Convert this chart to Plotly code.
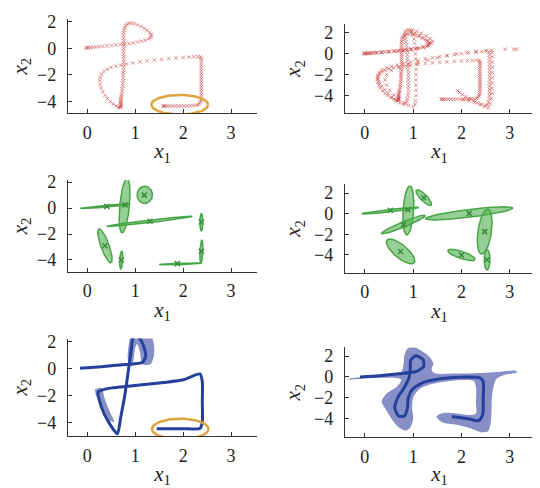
import numpy as np
import plotly.graph_objects as go

# ---------------- data ----------------
# demonstration 1 (top-left panel, also in top-right)
DEMO1 = [(-0.02,0.02),(0.0,0.03),(0.03,0.04),(0.07,0.05),(0.12,0.07),(0.18,0.09),(0.25,0.11),(0.33,0.14),(0.42,0.17),(0.51,0.2),(0.6,0.24),(0.69,0.27),(0.78,0.31),(0.87,0.35),(0.96,0.4),(1.05,0.46),(1.13,0.53),(1.21,0.61),(1.28,0.7),(1.32,0.8),
 (1.34,0.92),(1.33,1.05),(1.3,1.2),(1.25,1.35),(1.19,1.5),(1.12,1.63),(1.05,1.75),(0.98,1.84),(0.92,1.88),(0.87,1.87),(0.83,1.8),(0.8,1.68),(0.78,1.52),(0.77,1.35),(0.76,1.15),(0.76,0.95),
 (0.76,0.75),(0.76,0.55),(0.76,0.35),(0.76,0.15),(0.76,-0.05),(0.76,-0.25),(0.76,-0.45),(0.76,-0.65),(0.76,-0.85),(0.76,-1.05),(0.76,-1.25),(0.76,-1.45),(0.76,-1.65),(0.75,-1.85),(0.75,-2.05),(0.75,-2.25),(0.75,-2.45),(0.74,-2.65),(0.74,-2.85),(0.73,-3.05),(0.73,-3.25),(0.72,-3.45),(0.71,-3.6),(0.71,-3.75),(0.7,-3.88),(0.7,-4.0),(0.7,-4.1),(0.7,-4.2),(0.7,-4.28),(0.7,-4.36),(0.69,-4.42),(0.69,-4.48),
 (0.65,-4.45),(0.6,-4.35),(0.54,-4.2),(0.48,-4.02),(0.42,-3.8),(0.37,-3.55),(0.32,-3.28),(0.29,-3.0),(0.27,-2.72),(0.26,-2.45),(0.27,-2.2),(0.3,-1.95),(0.35,-1.75),(0.42,-1.58),(0.5,-1.45),(0.6,-1.35),(0.7,-1.28),
 (0.82,-1.2),(0.95,-1.12),(1.1,-1.03),(1.25,-0.95),(1.4,-0.88),(1.55,-0.83),(1.7,-0.78),(1.85,-0.74),(2.0,-0.7),(2.12,-0.67),(2.22,-0.65),(2.3,-0.63),(2.36,-0.63),
 (2.38,-0.75),(2.38,-0.9),(2.38,-1.1),(2.38,-1.3),(2.38,-1.5),(2.38,-1.7),(2.38,-1.9),(2.38,-2.1),(2.38,-2.3),(2.38,-2.5),(2.38,-2.7),(2.38,-2.9),(2.38,-3.1),(2.38,-3.3),(2.38,-3.5),(2.38,-3.7),(2.37,-3.9),(2.36,-4.05),(2.34,-4.18),(2.31,-4.26),
 (2.26,-4.3),(2.2,-4.31),(2.14,-4.32),(2.08,-4.33),(2.02,-4.34),(1.96,-4.34),(1.9,-4.35),(1.84,-4.35),(1.78,-4.35),(1.72,-4.35),(1.67,-4.35),(1.63,-4.35),(1.6,-4.35),(1.58,-4.35)]

DEMO2 = [(0.0,0.0),(0.06,0.02),(0.15,0.06),(0.25,0.1),(0.36,0.15),(0.48,0.2),(0.6,0.26),(0.72,0.32),(0.84,0.39),(0.96,0.47),(1.08,0.56),(1.2,0.68),(1.3,0.82),(1.38,1.0),(1.4,1.2),(1.35,1.45),(1.27,1.7),(1.17,1.95),(1.07,2.15),(0.98,2.28),(0.9,2.3),(0.85,2.2),(0.83,2.0),(0.83,1.7),(0.84,1.4),(0.85,1.1),(0.86,0.8),(0.87,0.5),(0.88,0.2),(0.88,-0.1),(0.88,-0.4),(0.88,-0.7),(0.89,-1.0),(0.89,-1.3),(0.89,-1.6),(0.9,-1.9),(0.9,-2.2),(0.9,-2.5),(0.9,-2.8),(0.9,-3.1),(0.9,-3.4),(0.9,-3.7),(0.89,-4.0),(0.88,-4.3),(0.87,-4.55),(0.85,-4.75),(0.8,-4.85),
 (0.72,-4.7),(0.64,-4.45),(0.56,-4.15),(0.48,-3.8),(0.41,-3.45),(0.35,-3.1),(0.3,-2.75),(0.27,-2.4),(0.27,-2.1),(0.3,-1.8),(0.36,-1.55),(0.45,-1.35),(0.55,-1.2),(0.67,-1.08),(0.8,-0.95),(0.95,-0.8),(1.1,-0.65),(1.25,-0.5),(1.4,-0.38),(1.55,-0.27),(1.7,-0.17),(1.85,-0.08),(2.0,0.0),(2.15,0.07),(2.3,0.14),(2.42,0.2),(2.52,0.25),
 (2.57,0.15),(2.58,-0.1),(2.58,-0.4),(2.58,-0.7),(2.58,-1.0),(2.58,-1.3),(2.58,-1.6),(2.58,-1.9),(2.58,-2.2),(2.58,-2.5),(2.58,-2.8),(2.58,-3.1),(2.58,-3.4),(2.58,-3.7),(2.58,-4.0),(2.57,-4.3),(2.56,-4.6),(2.54,-4.85),(2.5,-4.95),(2.42,-4.85),(2.33,-4.7),(2.25,-4.5),(2.17,-4.3),(2.09,-4.1),(2.02,-3.9),(1.96,-3.7),(1.92,-3.55)]

DEMO3 = [(0.0,0.0),(0.1,0.04),(0.22,0.08),(0.35,0.12),(0.5,0.18),(0.65,0.24),(0.8,0.3),(0.95,0.38),(1.1,0.48),(1.22,0.6),(1.3,0.78),(1.32,1.0),(1.28,1.25),(1.2,1.5),(1.12,1.75),(1.04,1.95),(0.97,2.1),(0.92,2.2),(0.96,2.1),(1.0,1.8),(1.02,1.4),(1.03,1.0),(1.04,0.5),(1.05,0.0),(1.05,-0.5),(1.06,-1.0),(1.06,-1.5),(1.06,-2.0),(1.06,-2.5),(1.06,-3.0),(1.06,-3.5),(1.06,-4.0),(1.05,-4.5),(1.04,-4.85),(1.0,-5.05),
 (0.9,-4.95),(0.8,-4.7),(0.7,-4.35),(0.6,-3.95),(0.52,-3.5),(0.45,-3.0),(0.42,-2.5),(0.45,-2.0),(0.55,-1.6),(0.7,-1.3),(0.9,-1.05),(1.1,-0.82),(1.3,-0.6),(1.5,-0.4),(1.7,-0.2),(1.9,-0.02),(2.1,0.12),(2.3,0.24),(2.5,0.32),(2.62,0.33),(2.9,0.42),(3.08,0.43),(3.14,0.43),
 (2.64,0.1),(2.64,-0.3),(2.64,-0.8),(2.64,-1.3),(2.64,-1.8),(2.64,-2.3),(2.64,-2.8),(2.63,-3.3),(2.63,-3.8),(2.62,-4.3),(2.6,-4.8),(2.55,-5.15),(2.47,-5.05),(2.38,-4.85),(2.27,-4.65),(2.15,-4.5),(2.04,-4.38)]

# Gaussian components: centers, conjugate semi-axes (data units)
ML_CENTER = [(0.38,0.14),(0.78,0.2),(1.2,1.02),(1.3,-1.02),(2.38,-1.08),(2.38,-3.35),(1.94,-4.3),(0.37,-2.9),(0.71,-4.0)]
ML_MAJOR  = [(0.52,0.16),(0.05,2.1),(0.0,0.66),(0.89,0.38),(0.0,0.68),(0.01,0.9),(0.44,0.05),(-0.12,1.3),(0.01,0.7)]
ML_MINOR  = [(0.0,0.07),(0.1,0.0),(0.16,0.0),(0.0,0.1),(0.03,0.0),(0.03,0.0),(0.0,0.05),(0.09,0.0),(0.03,0.0)]
ML_MARK   = [(0.41,0.12),(0.79,0.25),(1.19,1.0),(1.31,-1.02),(2.38,-1.07),(2.38,-3.33),(1.88,-4.28),(0.37,-2.9),(0.71,-4.0)]

MR_CENTER = [(0.53,0.3),(0.9,0.32),(1.22,1.56),(0.8,-1.05),(2.16,0.03),(2.48,-1.75),(2.53,-4.5),(0.74,-3.68),(2.0,-4.03)]
MR_MAJOR  = [(0.59,0.3),(0.03,2.38),(-0.153,0.73),(0.45,0.89),(0.9,0.51),(0.06,2.19),(0.0,0.98),(-0.28,1.11),(0.28,-0.44)]
MR_MINOR  = [(0.0,0.12),(0.11,0.0),(0.05,0.22),(0.04,-0.2),(0.0,0.38),(0.14,0.0),(0.06,0.0),(0.09,0.48),(-0.024,-0.33)]
MR_MARK   = [(0.53,0.33),(0.89,0.38),(1.22,1.56),(0.8,-1.05),(2.16,0.03),(2.48,-1.75),(2.53,-4.5),(0.74,-3.68),(2.0,-4.03)]

# reproduced mean trajectories and their confidence regions
BL_MEAN = [(-0.15,0.0),(0.3,0.12),(0.8,0.28),(1.15,0.42),(1.22,0.9),(1.18,1.6),(1.1,2.2),(1.02,2.45),(0.95,2.2),(0.92,1.4),(0.88,0.4),(0.83,-0.9),(0.77,-2.3),(0.7,-3.6),(0.63,-4.85),
           (0.45,-4.0),(0.3,-2.9),(0.23,-1.75),(0.4,-1.52),(1.0,-1.28),(1.6,-1.05),(2.0,-0.85),(2.35,-0.42),(2.4,-1.0),(2.4,-2.5),(2.4,-4.0),(2.35,-4.45),(2.0,-4.47),(1.45,-4.48)]
BL_BAND1 = [(0.85,0.6),(0.87,1.8),(0.92,2.4),(1.32,2.4),(1.39,1.8),(1.39,0.9),(1.32,0.3),(1.15,0.3),(1.1,1.2),(1.04,1.8),(1.0,1.5),(0.97,0.7),(0.93,0.15),(0.85,0.6)]
BL_BAND2 = [(0.16,-1.55),(0.3,-1.45),(0.36,-2.2),(0.47,-3.2),(0.56,-3.95),(0.48,-3.9),(0.33,-2.9),(0.18,-2.0)]

BR_MEAN = [(-0.1,0.0),(0.3,0.12),(0.7,0.3),(1.06,0.52),(1.22,1.0),(1.2,1.7),(1.05,2.02),(0.95,1.6),(0.94,0.8),(0.92,0.0),(0.82,-1.0),(0.68,-2.0),(0.62,-3.0),(0.7,-3.75),(0.82,-3.75),(0.88,-3.0),(0.9,-2.0),(0.98,-1.2),(1.2,-0.55),(1.6,-0.15),(2.1,0.0),(2.38,-0.08),(2.45,-0.5),(2.45,-2.0),(2.44,-3.6),(2.36,-4.2),(2.1,-3.98),(1.8,-3.82)]
BR_BAND = [(-0.32,-0.15),(0.3,0.18),(0.75,0.45),(0.8,1.2),(0.82,2.1),(0.88,2.7),(1.0,2.88),(1.15,2.55),(1.3,2.1),(1.42,1.3),(1.38,0.72),(1.45,0.35),(1.9,0.32),(2.4,0.38),(2.8,0.5),(3.12,0.6),(3.15,0.45),(2.9,0.2),(2.72,-0.2),(2.66,-1.0),
           (2.63,-2.0),(2.62,-3.5),(2.6,-4.5),(2.55,-5.2),(2.4,-5.3),(2.2,-4.95),(1.9,-4.6),(1.6,-4.35),(1.48,-3.8),(1.62,-3.45),(1.9,-3.5),(2.2,-3.65),(2.3,-3.5),(2.3,-2.5),(2.3,-1.0),(2.25,-0.4),(2.0,-0.3),(1.6,-0.5),(1.3,-0.8),(1.12,-1.2),
           (1.0,-2.0),(0.98,-3.0),(1.0,-4.0),(0.95,-4.8),(0.85,-5.15),(0.72,-4.9),(0.58,-4.2),(0.42,-3.0),(0.35,-2.4),(0.45,-1.6),(0.65,-1.0),(0.75,-0.25),(0.3,-0.08),(-0.32,-0.28)]

# highlight ellipses (center, semi-axes)
HL_TL = ((1.93,-4.25),(0.59,0.74))
HL_BL = ((1.94,-4.49),(0.59,0.76))

X_TICKS = [0,1,2,3]
Y_TICKS = [2,0,-2,-4]

# ---------------- styling ----------------
RED = "rgba(205,70,70,0.6)"
GREEN_FILL = "rgba(80,175,80,0.6)"
GREEN_LINE = "rgb(70,165,70)"
GREEN_MARK = "rgb(55,140,55)"
BLUE = "rgb(35,65,155)"
BLUE_BAND = "rgba(95,105,180,0.75)"
ORANGE = "rgb(222,165,62)"
AX = "#333333"
FONT = "Liberation Serif"

fig = go.Figure()

def xy(pts):
    a = np.array(pts, dtype=float)
    return a[:, 0], a[:, 1]

def conj_ellipse(c, a, b, n=80):
    t = np.linspace(0, 2*np.pi, n)
    return c[0] + a[0]*np.cos(t) + b[0]*np.sin(t), c[1] + a[1]*np.cos(t) + b[1]*np.sin(t)

def add_markers(pts, k):
    x, y = xy(pts)
    fig.add_trace(go.Scatter(x=x, y=y, mode="markers", xaxis=f"x{k}", yaxis=f"y{k}",
                             marker=dict(symbol="x-thin", size=3.5, line=dict(width=1, color=RED)),
                             showlegend=False, hoverinfo="skip"))

def add_hl(hl, k):
    (c, r) = hl
    x, y = conj_ellipse(c, (r[0], 0), (0, r[1]))
    fig.add_trace(go.Scatter(x=x, y=y, mode="lines", xaxis=f"x{k}", yaxis=f"y{k}",
                             line=dict(color=ORANGE, width=2.5), showlegend=False, hoverinfo="skip"))

def add_gmm(centers, majors, minors, marks, k):
    for c, a, b in zip(centers, majors, minors):
        x, y = conj_ellipse(c, a, b)
        fig.add_trace(go.Scatter(x=x, y=y, mode="lines", fill="toself", fillcolor=GREEN_FILL,
                                 xaxis=f"x{k}", yaxis=f"y{k}", line=dict(color=GREEN_LINE, width=1.5),
                                 showlegend=False, hoverinfo="skip"))
    mx, my = xy(marks)
    fig.add_trace(go.Scatter(x=mx, y=my, mode="markers", xaxis=f"x{k}", yaxis=f"y{k}",
                             marker=dict(symbol="x-thin", size=5, line=dict(width=1.5, color=GREEN_MARK)),
                             showlegend=False, hoverinfo="skip"))

def add_band(pts, k):
    x, y = xy(pts)
    fig.add_trace(go.Scatter(x=x, y=y, mode="lines", fill="toself", fillcolor=BLUE_BAND,
                             line=dict(width=0, shape="spline", smoothing=0.8), xaxis=f"x{k}", yaxis=f"y{k}",
                             showlegend=False, hoverinfo="skip"))

def add_mean(pts, k):
    x, y = xy(pts)
    fig.add_trace(go.Scatter(x=x, y=y, mode="lines", xaxis=f"x{k}", yaxis=f"y{k}",
                             line=dict(color=BLUE, width=3, shape="spline", smoothing=0.6),
                             showlegend=False, hoverinfo="skip"))

# panel 1: top-left
add_markers(DEMO1, 1)
add_hl(HL_TL, 1)
# panel 2: top-right
for d in (DEMO1, DEMO2, DEMO3):
    add_markers(d, 2)
# panel 3: middle-left
add_gmm(ML_CENTER, ML_MAJOR, ML_MINOR, ML_MARK, 3)
# panel 4: middle-right
add_gmm(MR_CENTER, MR_MAJOR, MR_MINOR, MR_MARK, 4)
# panel 5: bottom-left
add_band(BL_BAND1, 5)
add_band(BL_BAND2, 5)
add_mean(BL_MEAN, 5)
add_hl(HL_BL, 5)
# panel 6: bottom-right
add_band(BR_BAND, 6)
add_mean(BR_MEAN, 6)

# page has an 8px body margin: figure is placed at (8, 8)
OFF = 8
W, H = 540 - OFF, 488 - OFF
def xd(l, r):
    return [(l - OFF)/W, (r - OFF)/W]
def yd(top, bot):
    return [1 - (bot - OFF)/H, 1 - (top - OFF)/H]

LEFT_X = xd(68, 257)
RIGHT_X = xd(345, 534)
panels = {
    1: (LEFT_X, yd(11, 107), [-0.4, 3.54], [-4.9, 2.2]),
    2: (RIGHT_X, yd(16, 107), [-0.41, 3.5], [-5.7, 2.85]),
    3: (LEFT_X, yd(175, 268), [-0.4, 3.54], [-4.9, 2.15]),
    4: (RIGHT_X, yd(179, 269), [-0.41, 3.5], [-5.75, 2.88]),
    5: (LEFT_X, yd(336, 435), [-0.4, 3.54], [-5.0, 2.2]),
    6: (RIGHT_X, yd(345, 436), [-0.41, 3.5], [-5.75, 2.83]),
}

layout = dict(width=W, height=H, margin=dict(l=0, r=0, t=0, b=0),
              paper_bgcolor="white", plot_bgcolor="white", showlegend=False,
              font=dict(family=FONT, size=18, color="#222"))
common = dict(showline=True, linecolor=AX, linewidth=1.3, ticks="inside", ticklen=4,
              tickwidth=1.2, tickcolor=AX, showgrid=False, zeroline=False,
              tickfont=dict(family=FONT, size=18, color="#222"))
for k, (xdom, ydom, xr, yr) in panels.items():
    sfx = "" if k == 1 else str(k)
    layout[f"xaxis{sfx}"] = dict(common, domain=xdom, range=xr, anchor=f"y{k}", tickvals=X_TICKS,
                                 ticklabelstandoff=3,
                                 title=dict(text="<i>x</i><sub>1</sub>", standoff=1,
                                            font=dict(family=FONT, size=21)))
    layout[f"yaxis{sfx}"] = dict(common, domain=ydom, range=yr, anchor=f"x{k}", tickvals=Y_TICKS,
                                 ticklabelstandoff=7,
                                 title=dict(text="<i>x</i><sub>2</sub>", standoff=7,
                                            font=dict(family=FONT, size=21)))
fig.update_layout(**layout)
fig.write_html("out.html")
